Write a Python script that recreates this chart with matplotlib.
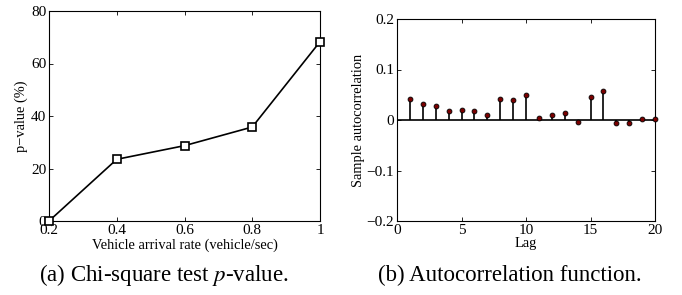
import matplotlib.pyplot as plt

plt.rcParams['font.family'] = ['Liberation Serif', 'DejaVu Serif']
plt.rcParams['mathtext.fontset'] = 'stix'

# (a) chi-square test p-value
rate = [0.2, 0.4, 0.6, 0.8, 1.0]
pvalue = [0.0, 23.5, 28.7, 35.8, 68.3]

# (b) sample autocorrelation
lags = list(range(1, 21))
acf = [0.0415, 0.032, 0.0277, 0.017, 0.0198, 0.018, 0.0105, 0.041, 0.0388, 0.0486,
       0.0045, 0.009, 0.013, -0.0047, 0.0447, 0.058, -0.006, -0.005, 0.0026, 0.001]

fig = plt.figure(figsize=(6.82, 2.95), dpi=100)
W, H = 682, 295

def style(ax):
    ax.tick_params(direction='in', top=True, right=True, labelsize=11,
                   length=3, width=0.6, pad=2)
    for s in ax.spines.values():
        s.set_linewidth(0.8)

# Plot a
ax1 = fig.add_axes([49 / W, 1 - 221 / H, (320 - 49) / W, (221 - 11) / H])
ax1.plot(rate, pvalue, '-s', color='black', lw=1.2, ms=6,
         markerfacecolor='white', markeredgewidth=1.2, clip_on=False, zorder=3)
ax1.set_xlim(0.2, 1)
ax1.set_ylim(0, 80)
ax1.set_xticks([0.2, 0.4, 0.6, 0.8, 1])
ax1.set_xticklabels(['0.2', '0.4', '0.6', '0.8', '1'])
ax1.set_yticks([0, 20, 40, 60, 80])
ax1.set_xlabel('Vehicle arrival rate (vehicle/sec)', fontsize=10.4, labelpad=1)
ax1.set_ylabel('p\u2212value (%)', fontsize=10.4, labelpad=2)
style(ax1)

# Plot b
ax2 = fig.add_axes([397 / W, 1 - 221 / H, (655 - 397) / W, (221 - 19) / H])
ax2.vlines(lags, 0, acf, color='black', lw=1.2, clip_on=False)
ax2.plot(lags, acf, 'o', ms=3.5, markerfacecolor='#7a0000',
         markeredgecolor='black', markeredgewidth=0.6, clip_on=False, zorder=3)
ax2.axhline(0, color='black', lw=1.2)
ax2.set_xlim(0, 20)
ax2.set_ylim(-0.2, 0.2)
ax2.set_xticks([0, 5, 10, 15, 20])
ax2.set_yticks([-0.2, -0.1, 0, 0.1, 0.2])
ax2.set_yticklabels(['\u22120.2', '\u22120.1', '0', '0.1', '0.2'])
ax2.set_xlabel('Lag', fontsize=10.4, labelpad=0)
ax2.set_ylabel('Sample autocorrelation', fontsize=10.4, labelpad=1)
style(ax2)

fig.text(164 / W, 1 - 275 / H, '(a) Chi-square test $p$-value.', fontsize=16.5,
         ha='center', va='center')
fig.text(510 / W, 1 - 275 / H, '(b) Autocorrelation function.', fontsize=16.5,
         ha='center', va='center')

fig.savefig('out.png', dpi=100)
